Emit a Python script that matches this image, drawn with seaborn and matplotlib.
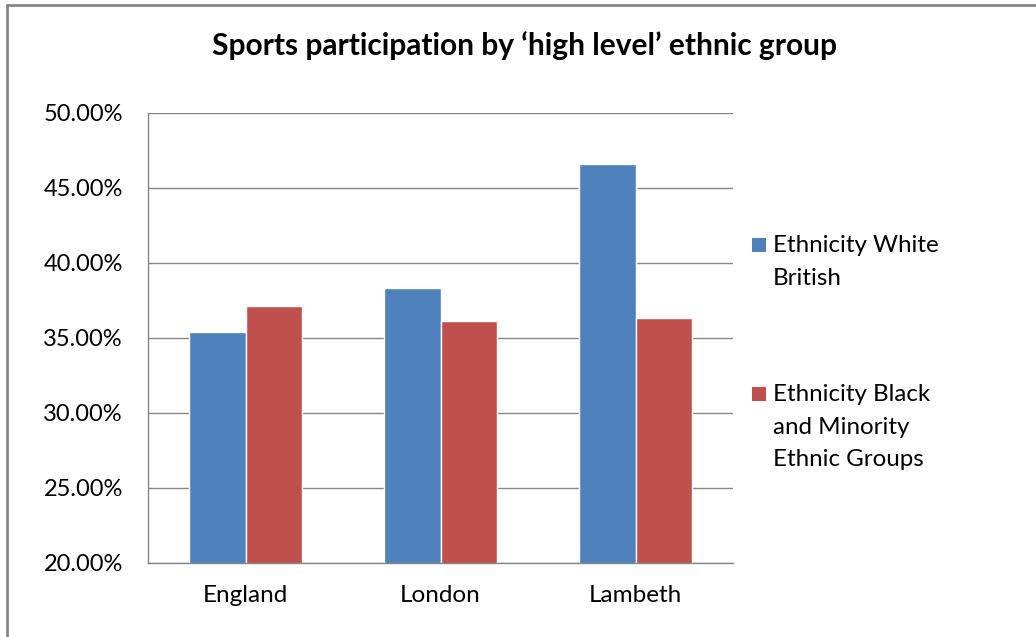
import pandas as pd
import matplotlib.pyplot as plt
import seaborn as sns
from matplotlib.patches import Rectangle
from matplotlib.lines import Line2D
from matplotlib.ticker import PercentFormatter, MultipleLocator

# data
regions = ["England", "London", "Lambeth"]
groups = ["Ethnicity White British", "Ethnicity Black and Minority Ethnic Groups"]
white_british = [0.354, 0.383, 0.466]
bme = [0.371, 0.361, 0.363]
legend_labels = ["Ethnicity White\nBritish", "Ethnicity Black\nand Minority\nEthnic Groups"]

df = pd.DataFrame({
    "region": regions * 2,
    "group": [groups[0]] * 3 + [groups[1]] * 3,
    "value": white_british + bme,
})

sns.set_style("white")
plt.rcParams["font.family"] = ["Lato", "DejaVu Sans"]
plt.rcParams["text.color"] = "black"
plt.rcParams["xtick.labelcolor"] = "black"
plt.rcParams["ytick.labelcolor"] = "black"

colors = ["#4F81BD", "#C0504D"]
grey = "#878787"

fig = plt.figure(figsize=(10.36, 6.37), dpi=100)
ax = fig.add_axes([148 / 1036, 1 - 562.7 / 637, (733 - 148) / 1036, 450 / 637])

sns.barplot(df, x="region", y="value", hue="group", palette=colors,
            width=0.58, saturation=1, legend=False, ax=ax)

ax.set_ylim(0.20, 0.50)
ax.set_xlim(-0.5, 2.5)
ax.yaxis.set_major_locator(MultipleLocator(0.05))
ax.yaxis.set_major_formatter(PercentFormatter(xmax=1, decimals=2))
ax.grid(axis="y", color=grey, linewidth=1)
ax.set_axisbelow(True)
ax.set_xlabel("")
ax.set_ylabel("")

for s in ["top", "right"]:
    ax.spines[s].set_visible(False)
for s in ["left", "bottom"]:
    ax.spines[s].set_color(grey)
    ax.spines[s].set_linewidth(1)

ax.tick_params(axis="y", length=6, width=1, color=grey, pad=12, labelsize=17)
ax.tick_params(axis="x", which="major", length=0, pad=16, labelsize=17.5)
ax.set_xticks([-0.5, 0.5, 1.5, 2.5], minor=True)
ax.tick_params(axis="x", which="minor", length=6, width=1, color=grey)

fig.text(524 / 1036, 1 - 46 / 637, "Sports participation by \u2018high level\u2019 ethnic group",
         ha="center", va="center", fontsize=21.5, fontweight="bold")

# legend drawn by hand so the swatch sits on the first line
legend_tops = [238, 387]
for c, lab, top in zip(colors, legend_labels, legend_tops):
    fig.patches.append(Rectangle((752 / 1036, 1 - (top + 14) / 637), 14 / 1036, 14 / 637,
                                 transform=fig.transFigure, facecolor=c, edgecolor="none"))
    fig.text(773 / 1036, 1 - (top - 3) / 637, lab, ha="left", va="top",
             fontsize=17.4, linespacing=1.68)

# outer chart border
fig.add_artist(Line2D([7 / 1036, 7 / 1036], [0, 1 - 4.5 / 637], transform=fig.transFigure,
                      color=grey, linewidth=2))
fig.add_artist(Line2D([7 / 1036, 1], [1 - 4.5 / 637, 1 - 4.5 / 637], transform=fig.transFigure,
                      color=grey, linewidth=2))

fig.savefig("out.png", dpi=100)
